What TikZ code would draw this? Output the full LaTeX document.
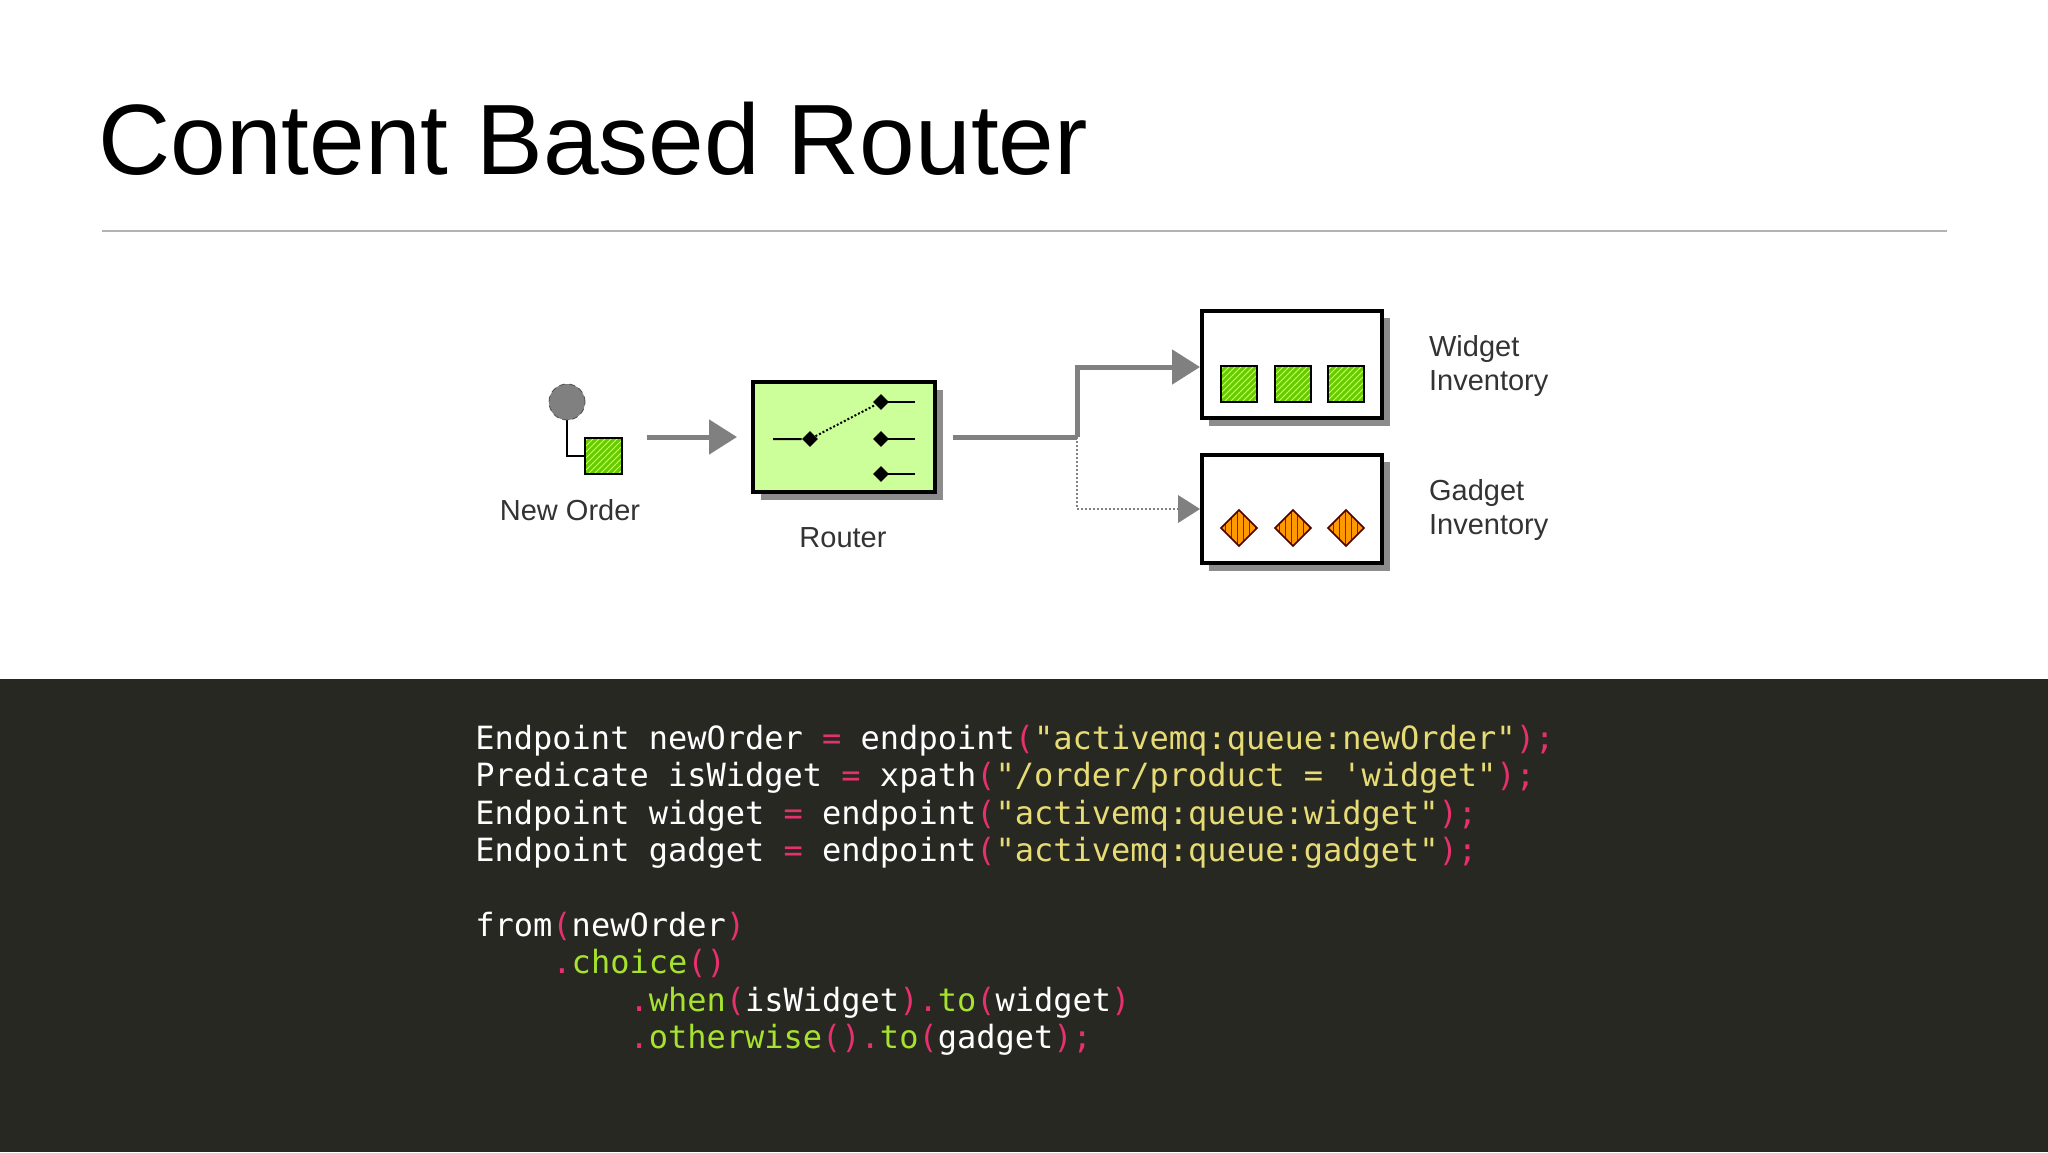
\documentclass[tikz,border=0pt]{standalone}
\usepackage{fontspec}
\setmainfont{Liberation Sans}
\setmonofont{DejaVu Sans Mono}
\usetikzlibrary{patterns,arrows.meta,calc}
\definecolor{band}{HTML}{272822}
\definecolor{pk}{HTML}{E8306F}
\definecolor{st}{HTML}{E6DB74}
\definecolor{gn}{HTML}{A6E22E}
\definecolor{routerfill}{HTML}{CCFF99}
\definecolor{wg}{HTML}{66CC00}
\definecolor{wl}{HTML}{CCFF66}
\definecolor{go}{HTML}{FF9900}
\newcommand{\cP}[1]{\textcolor{pk}{#1}}
\newcommand{\cS}[1]{\textcolor{st}{#1}}
\newcommand{\cG}[1]{\textcolor{gn}{#1}}
\begin{document}
\begin{tikzpicture}[x=0.5pt,y=-0.5pt,
  box/.style={draw=black,line width=2pt,fill=white},
  shadow/.style={fill=gray!90},
  flow/.style={draw=gray,line width=2.5pt},
  tip/.style={-{Triangle[length=14pt,width=17pt]}},
  lbl/.style={font=\fontsize{14.5}{17}\selectfont,text=black!80,align=left},
  code/.style={anchor=base west,font=\fontsize{16}{19}\selectfont\ttfamily,text=white,inner sep=0},
  dot/.style={fill=black,inner sep=0,minimum size=5.5pt,shape=rectangle,rotate=45}]
\useasboundingbox (0,0) rectangle (2048,1152);
\fill[white] (0,0) rectangle (2048,1152);
\node[anchor=base west,inner sep=0,font=\fontsize{50}{54}\selectfont] (title) at (98,174) {Content Based Router};
\draw[gray!60,line width=1pt] (102,231) -- (1947,231);
\fill[band] (0,679) rectangle (2048,1152);
% New Order
\draw[black,line width=1pt] (567,402) |- (585,456);
\node[circle,draw=black!70,densely dashed,fill=gray,minimum size=18pt,inner sep=0] (msg) at (567,402) {};
\fill[wg] (585,438) rectangle (622,474);
\begin{scope}\clip (585,438) rectangle (622,474);
\fill[pattern={north east lines},pattern color=wl] (585,438) rectangle (622,474);\end{scope}
\draw[black,line width=1pt] (585,438) rectangle (622,474);
\node[lbl] (no) at (570,510) {New Order};
\coordinate (a1) at (647,437); \coordinate (a2) at (737,437);
\draw[flow,tip] (a1) -- (a2);
% Router
\fill[shadow] (761,390) rectangle (943,500);
\node[draw=black,line width=2pt,fill=routerfill,minimum width=91pt,minimum height=55pt,inner sep=0] (router) at (844,437) {};
\node[dot] (d0) at (810,439) {};
\node[dot] (d1) at (881,402) {};
\node[dot] (d2) at (881,439) {};
\node[dot] (d3) at (881,474) {};
\draw[line width=1pt] (773,439) -- (d0);
\draw[line width=1pt,densely dotted] (d0) -- (d1);
\foreach \d in {d1,d2,d3} \draw[line width=1pt] (\d.center) -- ++(34,0);
\node[lbl] (rl) at (843,538) {Router};
% connectors
\coordinate (o1) at (953,437); \coordinate (j) at (1077,437);
\coordinate (w1) at (1077,367); \coordinate (wt) at (1200,367);
\coordinate (g1) at (1077,509); \coordinate (gt) at (1200,509);
\draw[flow] (o1) -- (j);
\draw[gray,line width=1pt,densely dotted] (j) -- (g1);
\draw[flow,tip] (j) -- (w1) -- (wt);
\draw[gray,line width=1pt,densely dotted] (g1) -- ($(gt)+(-20,0)$);
\draw[draw=none,fill=gray] (1178,495) -- (gt) -- (1178,523) -- cycle;
% Widget inventory
\fill[shadow] (1209,318) rectangle (1390,426);
\draw[box] (1202,311) rectangle (1382,418);
\foreach \cx in {1239,1293,1346}{
  \fill[wg] (\cx-18,366) rectangle (\cx+18,402);
  \begin{scope}\clip (\cx-18,366) rectangle (\cx+18,402);
  \fill[pattern={north east lines},pattern color=wl] (\cx-18,366) rectangle (\cx+18,402);\end{scope}
  \draw[black,line width=0.8pt] (\cx-18,366) rectangle (\cx+18,402);}
% Gadget inventory
\fill[shadow] (1209,462) rectangle (1390,571);
\draw[box] (1202,455) rectangle (1382,563);
\foreach \cx in {1239,1293,1346}{
  \fill[go] (\cx,510) -- (\cx+18,528) -- (\cx,546) -- (\cx-18,528) -- cycle;
  \begin{scope}\clip (\cx,510) -- (\cx+18,528) -- (\cx,546) -- (\cx-18,528) -- cycle;
  \fill[pattern={vertical lines},pattern color=red!80!black] (\cx-18,510) rectangle (\cx+18,546);\end{scope}
  \draw[black!70!red,line width=0.8pt] (\cx,510) -- (\cx+18,528) -- (\cx,546) -- (\cx-18,528) -- cycle;}
\node[lbl,anchor=west] (wl) at (1422,366) {Widget\\Inventory};
\node[lbl,anchor=west] (gl) at (1422,510) {Gadget\\Inventory};
% code
\node[code] (c1) at (475,749) {Endpoint newOrder \cP{=} endpoint\cP{(}\cS{"activemq:queue:newOrder"}\cP{);}};
\node[code] (c2) at (475,786.5) {Predicate isWidget \cP{=} xpath\cP{(}\cS{"/order/product = 'widget"}\cP{);}};
\node[code] (c3) at (475,824) {Endpoint widget \cP{=} endpoint\cP{(}\cS{"activemq:queue:widget"}\cP{);}};
\node[code] (c4) at (475,861) {Endpoint gadget \cP{=} endpoint\cP{(}\cS{"activemq:queue:gadget"}\cP{);}};
\node[code] (c6) at (475,936) {from\cP{(}newOrder\cP{)}};
\node[code] (c7) at (475,973) {\phantom{xxxx}\cP{.}\cG{choice}\cP{()}};
\node[code] (c8) at (475,1011) {\phantom{xxxxxxxx}\cP{.}\cG{when}\cP{(}isWidget\cP{).}\cG{to}\cP{(}widget\cP{)}};
\node[code] (c9) at (475,1048) {\phantom{xxxxxxxx}\cP{.}\cG{otherwise}\cP{().}\cG{to}\cP{(}gadget\cP{);}};
\end{tikzpicture}
\end{document}
